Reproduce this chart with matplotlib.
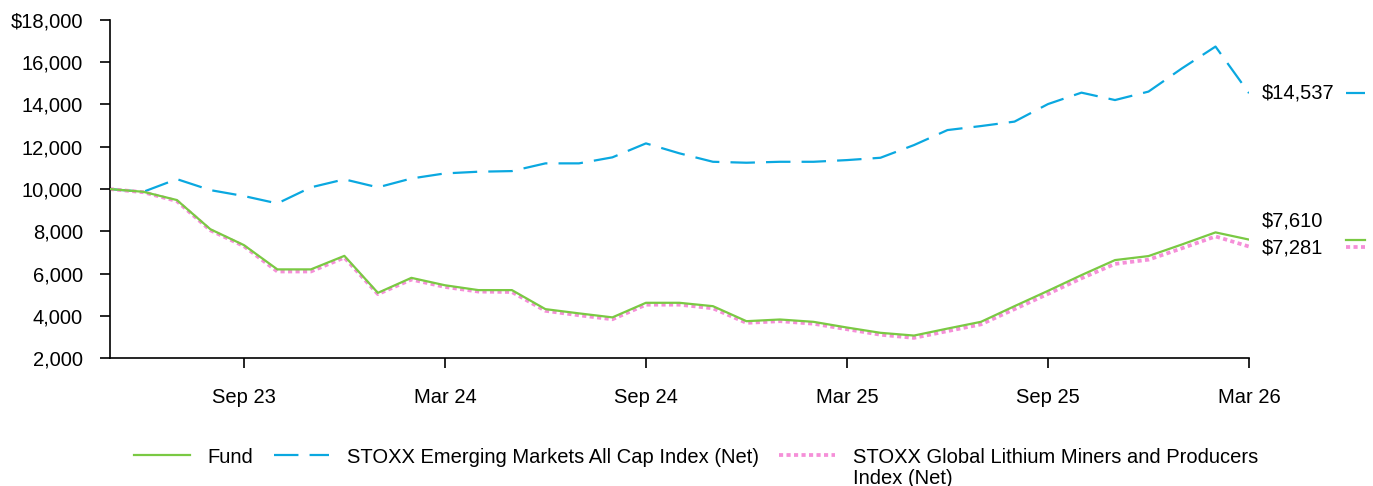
import matplotlib
matplotlib.use("Agg")
import matplotlib.pyplot as plt
import matplotlib.transforms as mtransforms
from matplotlib.ticker import FuncFormatter

plt.rcParams['font.family'] = ['Liberation Sans', 'DejaVu Sans']

# monthly points, May 23 .. Mar 26
months = ['May 23', 'Jun 23', 'Jul 23', 'Aug 23', 'Sep 23', 'Oct 23', 'Nov 23', 'Dec 23',
          'Jan 24', 'Feb 24', 'Mar 24', 'Apr 24', 'May 24', 'Jun 24', 'Jul 24', 'Aug 24',
          'Sep 24', 'Oct 24', 'Nov 24', 'Dec 24', 'Jan 25', 'Feb 25', 'Mar 25', 'Apr 25',
          'May 25', 'Jun 25', 'Jul 25', 'Aug 25', 'Sep 25', 'Oct 25', 'Nov 25', 'Dec 25',
          'Jan 26', 'Feb 26', 'Mar 26']
fund = [10000, 9870, 9480, 8100, 7350, 6200, 6200, 6840, 5090, 5800, 5450, 5220,
        5220, 4320, 4120, 3930, 4620, 4620, 4460, 3750, 3830, 3720, 3450, 3200,
        3070, 3400, 3720, 4460, 5185, 5930, 6640, 6830, 7380, 7950, 7610]
em_index = [10000, 9870, 10470, 9950, 9670, 9320, 10080, 10460, 10080, 10500, 10740, 10820,
            10850, 11215, 11215, 11500, 12160, 11690, 11290, 11245, 11290, 11290, 11370, 11480,
            12080, 12790, 12980, 13190, 14020, 14560, 14210, 14610, 15710, 16740, 14537]
lithium = [10000, 9850, 9430, 8050, 7300, 6100, 6100, 6760, 5030, 5720, 5370, 5150,
           5130, 4240, 4030, 3840, 4530, 4530, 4360, 3670, 3750, 3630, 3370, 3110,
           2960, 3280, 3600, 4320, 5040, 5780, 6460, 6660, 7200, 7760, 7281]
tick_labels = ['Sep 23', 'Mar 24', 'Sep 24', 'Mar 25', 'Sep 25', 'Mar 26']
series_names = ['Fund', 'STOXX Emerging Markets All Cap Index (Net)',
                'STOXX Global Lithium Miners and Producers', 'Index (Net)']

green = '#7ac943'
blue = '#0aa8e0'
pink = '#f58fd8'
fs = 14.5

fig = plt.figure(figsize=(13.73, 4.86), dpi=100)
ax = fig.add_axes([0.080, 0.263, 0.8297, 0.696])

x = list(range(len(months)))
styles = [dict(color=green, lw=1.6, linestyle='-'),
          dict(color=blue, lw=1.6, linestyle=(0, (11, 5))),
          dict(color=pink, lw=2.7, linestyle=(0, (1.1, 0.9)))]
ax.plot(x, fund, label=series_names[0], zorder=3, **styles[0])
ax.plot(x, em_index, label=series_names[1], zorder=2, **styles[1])
ax.plot(x, lithium, label=series_names[2], zorder=2, **styles[2])

ax.set_xlim(0, len(months) - 1)
ax.set_ylim(2000, 18000)
ax.set_yticks(range(2000, 18001, 2000))
ax.yaxis.set_major_formatter(FuncFormatter(
    lambda v, p: f'${v:,.0f}' if v == 18000 else f'{v:,.0f}'))
ax.set_xticks([months.index(t) for t in tick_labels])
ax.set_xticklabels(tick_labels)

for s in ['top', 'right']:
    ax.spines[s].set_visible(False)
for s in ['left', 'bottom']:
    ax.spines[s].set_linewidth(1.2)
ax.tick_params(axis='both', labelsize=fs, length=7, width=1.2, direction='out')
ax.tick_params(axis='x', pad=14.5)
ax.tick_params(axis='y', pad=12.5)

# end-value labels on the right
trans = mtransforms.blended_transform_factory(ax.transAxes, ax.transData)
ends = [(em_index[-1], 0, styles[1]), (fund[-1], 13.5, styles[0]), (lithium[-1], -1, styles[2])]
for val, dy, st in ends:
    ax.annotate(f'${val:,.0f}', xy=(1, val), xycoords=trans,
                xytext=(9.5, dy), textcoords='offset points', va='center',
                ha='left', fontsize=fs, annotation_clip=False)
    ax.plot([1.085, 1.102], [val, val], transform=trans, clip_on=False, **st)

leg = fig.legend(loc='center', bbox_to_anchor=(0.507, 1 - 457 / 486), ncol=3,
                 frameon=False, fontsize=fs, handlelength=2.75, columnspacing=1.0,
                 handletextpad=0.9, borderpad=0)

# second line of the last legend label, placed under its first line
fig.canvas.draw()
bb = leg.get_texts()[2].get_window_extent().transformed(fig.transFigure.inverted())
fig.text(bb.x0, bb.y0 - 0.006, series_names[3], ha='left', va='top', fontsize=fs)

fig.savefig('out.png', dpi=100)
